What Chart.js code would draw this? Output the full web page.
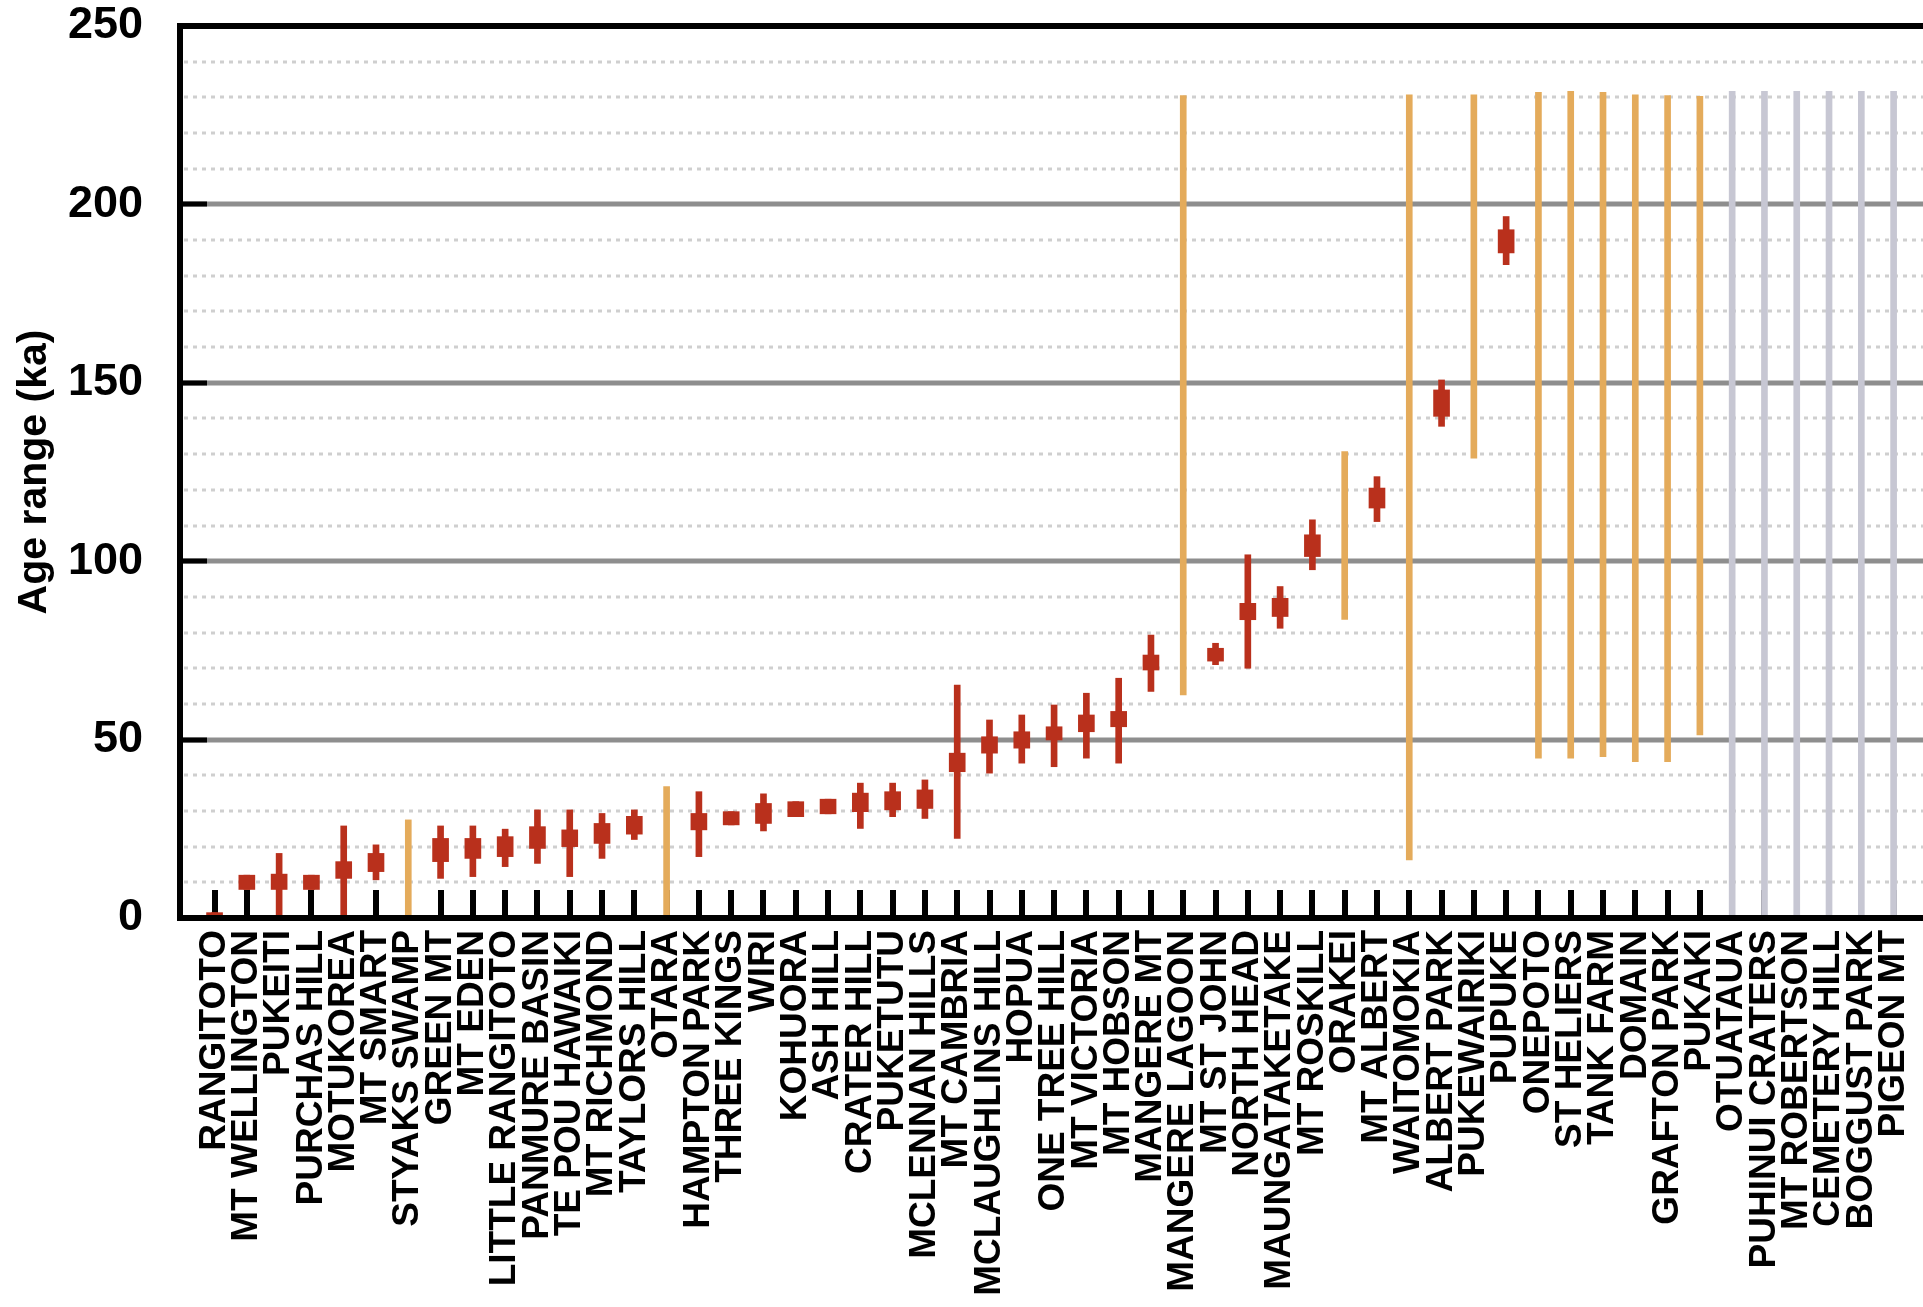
<!DOCTYPE html>
<html>
<head>
<meta charset="utf-8">
<script src="https://cdn.jsdelivr.net/npm/chart.js@4.4.1/dist/chart.umd.min.js"></script>
<style>
  html, body { margin: 0; padding: 0; background: #fff; }
  canvas { display: block; }
</style>
</head>
<body>
<canvas id="ages" width="1923" height="1307"></canvas>
<script>
// volcano names, left to right
const volcanoes = [
  'RANGITOTO', 'MT WELLINGTON', 'PUKEITI', 'PURCHAS HILL', 'MOTUKOREA', 'MT SMART',
  'STYAKS SWAMP', 'GREEN MT', 'MT EDEN', 'LITTLE RANGITOTO', 'PANMURE BASIN',
  'TE POU HAWAIKI', 'MT RICHMOND', 'TAYLORS HILL', 'OTARA', 'HAMPTON PARK',
  'THREE KINGS', 'WIRI', 'KOHUORA', 'ASH HILL', 'CRATER HILL', 'PUKETUTU',
  'MCLENNAN HILLS', 'MT CAMBRIA', 'MCLAUGHLINS HILL', 'HOPUA', 'ONE TREE HILL',
  'MT VICTORIA', 'MT HOBSON', 'MANGERE MT', 'MANGERE LAGOON', 'MT ST JOHN',
  'NORTH HEAD', 'MAUNGATAKETAKE', 'MT ROSKILL', 'ORAKEI', 'MT ALBERT',
  'WAITOMOKIA', 'ALBERT PARK', 'PUKEWAIRIKI', 'PUPUKE', 'ONEPOTO', 'ST HELIERS',
  'TANK FARM', 'DOMAIN', 'GRAFTON PARK', 'PUKAKI', 'OTUATAUA', 'PUHINUI CRATERS',
  'MT ROBERTSON', 'CEMETERY HILL', 'BOGGUST PARK', 'PIGEON MT'
];

// d = dated, b = bracketed only, u = unknown
const ageKind = [
  'd','d','d','d','d','d','b','d','d','d','d','d','d','d','b','d','d','d','d','d',
  'd','d','d','d','d','d','d','d','d','d','b','d','d','d','d','b','d','b','d','b',
  'd','b','b','b','b','b','b','u','u','u','u','u','u'
];

// full age range (ka)
const rangeMin = [
  0, 8, 0.8, 8, 0.8, 10.7, 0, 11.1, 11.6, 14.4, 15.3, 11.6, 16.7, 22, 0, 17.2,
  26.1, 24.4, 28.4, 29.2, 25.1, 28.4, 27.9, 22.3, 40.6, 43.4, 42.4, 44.8, 43.4,
  63.5, 62.5, 71, 70, 81.2, 97.6, 83.7, 111.1, 16.3, 137.8, 128.9, 183.1,
  44.8, 44.8, 45.2, 43.8, 43.8, 51.3, 0, 0, 0, 0, 0, 0
];
const rangeMax = [
  1.5, 12, 18.1, 12, 25.8, 20.5, 27.5, 25.8, 25.8, 24.9, 30.3, 30.3, 29.3, 30.3,
  36.8, 35.4, 29.8, 34.8, 32.6, 33.3, 37.8, 37.8, 38.7, 65.3, 55.5, 56.9, 59.7,
  63, 67.2, 79.3, 230.5, 77, 101.8, 92.9, 111.6, 130.7, 123.7, 230.7, 150.8,
  230.7, 196.6, 231.4, 231.7, 231.4, 230.7, 230.5, 230.3,
  231.7, 231.7, 231.7, 231.7, 231.7, 231.7
];

// central estimate box (ka), null where there is none
const coreMin = [
  0, 8, 8, 8, 11.1, 13, null, 15.8, 16.7, 17.2, 19.5, 20, 20.9, 23.5, null, 24.7,
  26.1, 26.5, 28.4, 29.2, 29.8, 30.3, 30.7, 41, 46.2, 47.6, 49.9, 52.2, 53.6,
  69.5, null, 72, 83.6, 84.5, 101.3, null, 114.9, null, 140.6, null, 186.4,
  null, null, null, null, null, null, null, null, null, null, null, null
];
const coreMax = [
  1.5, 12, 12.3, 12, 15.8, 18.1, null, 22.3, 22.3, 22.8, 25.6, 24.7, 26.5, 28.5,
  null, 29.3, 29.8, 32.1, 32.6, 33.3, 35, 35.4, 35.9, 46.2, 50.8, 52.2, 53.6,
  56.9, 57.9, 73.7, null, 75.6, 88.2, 89.6, 107.4, null, 120.5, null, 148, null,
  192.9, null, null, null, null, null, null, null, null, null, null, null, null
];

const yTicks = [0, 50, 100, 150, 200, 250];

const RED = '#b9301c';
const ORANGE = '#e4ab5b';
const GREY = '#c7c7d3';

function rangePoints(kind) {
  const pts = [];
  volcanoes.forEach((_, i) => {
    if (ageKind[i] === kind) pts.push({ x: i, y: [rangeMin[i], rangeMax[i]] });
  });
  return pts;
}
function corePoints() {
  const pts = [];
  volcanoes.forEach((_, i) => {
    if (coreMin[i] !== null) pts.push({ x: i, y: [coreMin[i], coreMax[i]] });
  });
  return pts;
}

// gridlines, inner ticks and the heavy frame
const frame = {
  id: 'frame',
  beforeDatasetsDraw(chart) {
    const { ctx, chartArea: a, scales: { x, y } } = chart;
    ctx.save();
    ctx.lineWidth = 3;
    ctx.strokeStyle = '#cfcfcf';
    ctx.setLineDash([4, 5]);
    for (let v = 10; v < 250; v += 10) {
      if (v % 50 === 0) continue;
      const py = Math.round(y.getPixelForValue(v));
      ctx.beginPath();
      ctx.moveTo(a.left + 4, py);
      ctx.lineTo(a.right, py);
      ctx.stroke();
    }
    ctx.setLineDash([]);
    yTicks.slice(1, -1).forEach(v => {
      const py = Math.round(y.getPixelForValue(v));
      ctx.lineWidth = 5;
      ctx.strokeStyle = '#8e8e8e';
      ctx.beginPath();
      ctx.moveTo(a.left, py);
      ctx.lineTo(a.right, py);
      ctx.stroke();
      ctx.strokeStyle = '#000';
      ctx.beginPath();
      ctx.moveTo(a.left, py);
      ctx.lineTo(a.left + 27, py);
      ctx.stroke();
    });
    ctx.lineWidth = 6;
    ctx.strokeStyle = '#000';
    volcanoes.forEach((_, i) => {
      const px = Math.round(x.getPixelForValue(i));
      ctx.beginPath();
      ctx.moveTo(px, a.bottom);
      ctx.lineTo(px, a.bottom - 28);
      ctx.stroke();
    });
    ctx.restore();
  },
  afterDatasetsDraw(chart) {
    const { ctx, chartArea: a } = chart;
    ctx.save();
    ctx.strokeStyle = '#000';
    ctx.lineWidth = 6;
    ctx.beginPath();
    ctx.moveTo(a.right + 5, a.top);
    ctx.lineTo(a.left, a.top);
    ctx.lineTo(a.left, a.bottom);
    ctx.lineTo(a.right + 5, a.bottom);
    ctx.stroke();
    ctx.restore();
  }
};

new Chart(document.getElementById('ages'), {
  type: 'bar',
  data: {
    datasets: [
      { label: 'central age', data: corePoints(), backgroundColor: RED, barThickness: 16, grouped: false },
      { label: 'age range', data: rangePoints('d'), backgroundColor: RED, barThickness: 6, grouped: false },
      { label: 'bracketed', data: rangePoints('b'), backgroundColor: ORANGE, barThickness: 6, grouped: false },
      { label: 'undated', data: rangePoints('u'), backgroundColor: GREY, barThickness: 6, grouped: false }
    ]
  },
  options: {
    responsive: false,
    animation: false,
    layout: { padding: { top: 26, left: 0, right: 0, bottom: 0 } },
    plugins: { legend: { display: false }, tooltip: { enabled: false } },
    scales: {
      x: {
        type: 'linear',
        offset: false,
        min: -1.07,
        max: 52.91,
        grid: { display: false, drawTicks: false, offset: false },
        border: { display: false },
        afterBuildTicks: scale => { scale.ticks = volcanoes.map((_, i) => ({ value: i })); },
        afterFit: scale => {
          scale.height = 389;
          scale.paddingLeft = 0;
          scale.paddingRight = 0;
        },
        ticks: {
          autoSkip: false,
          maxRotation: 90,
          minRotation: 90,
          padding: 12,
          color: '#000',
          font: { family: 'Liberation Sans', size: 37, weight: 'bold' },
          callback: v => volcanoes[v]
        }
      },
      y: {
        min: 0,
        max: 250,
        grid: { display: false, drawTicks: false },
        border: { display: false },
        afterBuildTicks: scale => { scale.ticks = yTicks.map(v => ({ value: v })); },
        afterFit: scale => {
          scale.width = 180;
          scale.paddingTop = 0;
          scale.paddingBottom = 0;
        },
        ticks: {
          padding: 37,
          color: '#000',
          font: { family: 'Liberation Sans', size: 45, weight: 'bold' }
        },
        title: {
          display: true,
          text: 'Age range (ka)',
          color: '#000',
          padding: { top: 10, bottom: 0 },
          font: { family: 'Liberation Sans', size: 41, weight: 'bold' }
        }
      }
    }
  },
  plugins: [frame]
});
</script>
</body>
</html>
